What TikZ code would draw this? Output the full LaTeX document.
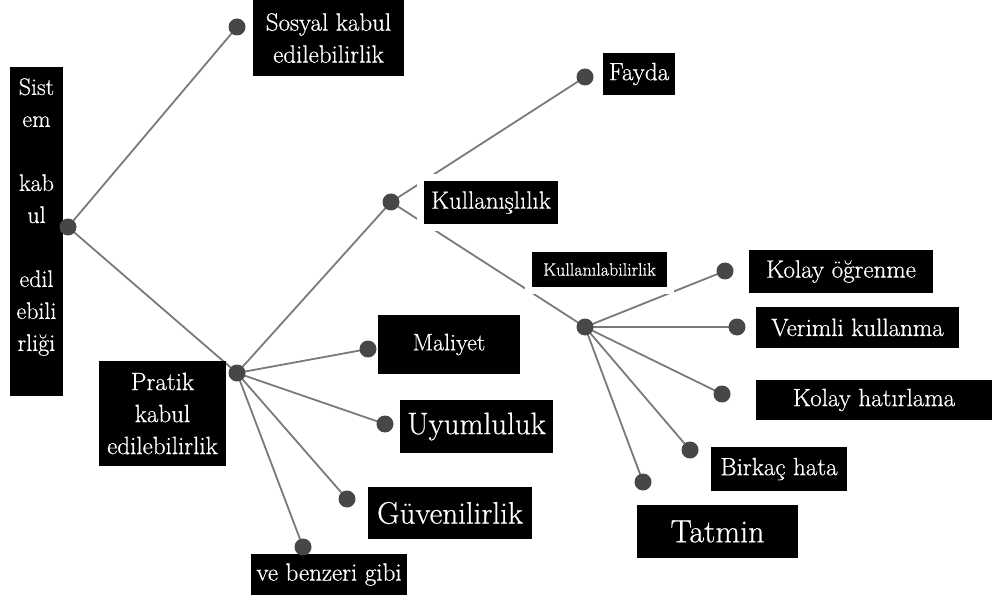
\documentclass[tikz,border=0pt]{standalone}
\usepackage{fontspec}
\setmainfont{Latin Modern Roman}[UprightFeatures={FakeBold=0.6}]
\begin{document}
\begin{tikzpicture}[x=1pt,y=-1pt,
  box/.style={fill=black, text=white, inner sep=0pt, align=center},
  halo/.style={preaction={draw=white, line width=14pt}},
  fs/.style={font=\fontsize{#1}{32}\selectfont},
  txt/.style={text=white, inner sep=0pt, align=center},
  dot/.style={circle, fill=black!72, inner sep=0pt, minimum size=17pt},
  edge/.style={draw=black!52, line width=1.8pt}]
\useasboundingbox (0,0) rectangle (992,601);
% dots (named coordinates first)
\coordinate (root) at (68,227);
\coordinate (sosD) at (237,27);
\coordinate (praD) at (237,373);
\coordinate (kulD) at (391,202);
\coordinate (fayD) at (585,77);
\coordinate (kabD) at (585,327);
\coordinate (kolD) at (725,271);
\coordinate (verD) at (737,327);
\coordinate (hatD) at (722,394);
\coordinate (birD) at (690,450);
\coordinate (tatD) at (643,482);
\coordinate (malD) at (368,349);
\coordinate (uyuD) at (385,424);
\coordinate (guvD) at (347,499);
\coordinate (veD) at (303,547);
% connectors
\path[edge] (root) -- (sosD);
\path[edge] (root) -- (praD);
\path[edge] (praD) -- (kulD);
\path[edge] (praD) -- (malD);
\path[edge] (praD) -- (uyuD);
\path[edge] (praD) -- (guvD);
\path[edge] (praD) -- (veD);
\path[edge] (kulD) -- (fayD);
\path[edge] (kulD) -- (kabD);
\path[edge] (kabD) -- (kolD);
\path[edge] (kabD) -- (verD);
\path[edge] (kabD) -- (hatD);
\path[edge] (kabD) -- (birD);
\path[edge] (kabD) -- (tatD);
% boxes
\node[box, minimum width=53pt, minimum height=329pt] (sistem) at (36.5,231.5) {};
\node[txt, fs=24] (sistemtxt) at (36.5,217) {Sist\\em\\\mbox{}\\kab\\ul\\\mbox{}\\edil\\ebili\\rliği};
\node[box, fs=25, minimum width=151pt, minimum height=76pt] (sosyal) at (328.5,38) {Sosyal kabul\\edilebilirlik};
\node[box, fs=25, minimum width=127pt, minimum height=105pt] (pratik) at (162.5,413.5) {Pratik\\kabul\\edilebilirlik};
\node[box, halo, fs=25, minimum width=134pt, minimum height=43pt] (kullanislilik) at (491,202.5) {Kullanışlılık};
\node[box, fs=25, minimum width=72pt, minimum height=42pt] (fayda) at (639,74) {Fayda};
\node[box, halo, fs=18, minimum width=135pt, minimum height=35pt] (kullanilabilirlik) at (599.5,269.5) {Kullanılabilirlik};
\node[box, fs=25, minimum width=184pt, minimum height=43pt] (kolayog) at (841,271.5) {Kolay öğrenme};
\node[box, fs=25, minimum width=203pt, minimum height=41pt] (verimli) at (857.5,327.5) {Verimli kullanma};
\node[box, fs=25, minimum width=236pt, minimum height=40pt] (kolayhat) at (874,400) {Kolay hatırlama};
\node[box, fs=25, minimum width=136pt, minimum height=44pt] (birkac) at (779,469) {Birkaç hata};
\node[box, fs=32, minimum width=161pt, minimum height=53pt] (tatmin) at (717.5,531.5) {Tatmin};
\node[box, fs=24, minimum width=142pt, minimum height=59pt] (maliyet) at (449,344.5) {Maliyet};
\node[box, fs=31, minimum width=153pt, minimum height=53pt] (uyumluluk) at (476.5,426.5) {Uyumluluk};
\node[box, fs=31, minimum width=164pt, minimum height=52pt] (guvenilirlik) at (450,513) {Güvenilirlik};
\node[box, fs=25, minimum width=156pt, minimum height=41pt] (vebenzeri) at (329,574.5) {ve benzeri gibi};
% dots
\foreach \d in {root,sosD,praD,kulD,fayD,kabD,kolD,verD,hatD,birD,tatD,malD,uyuD,guvD,veD}
  \node[dot] (n\d) at (\d) {};
\end{tikzpicture}
\end{document}
